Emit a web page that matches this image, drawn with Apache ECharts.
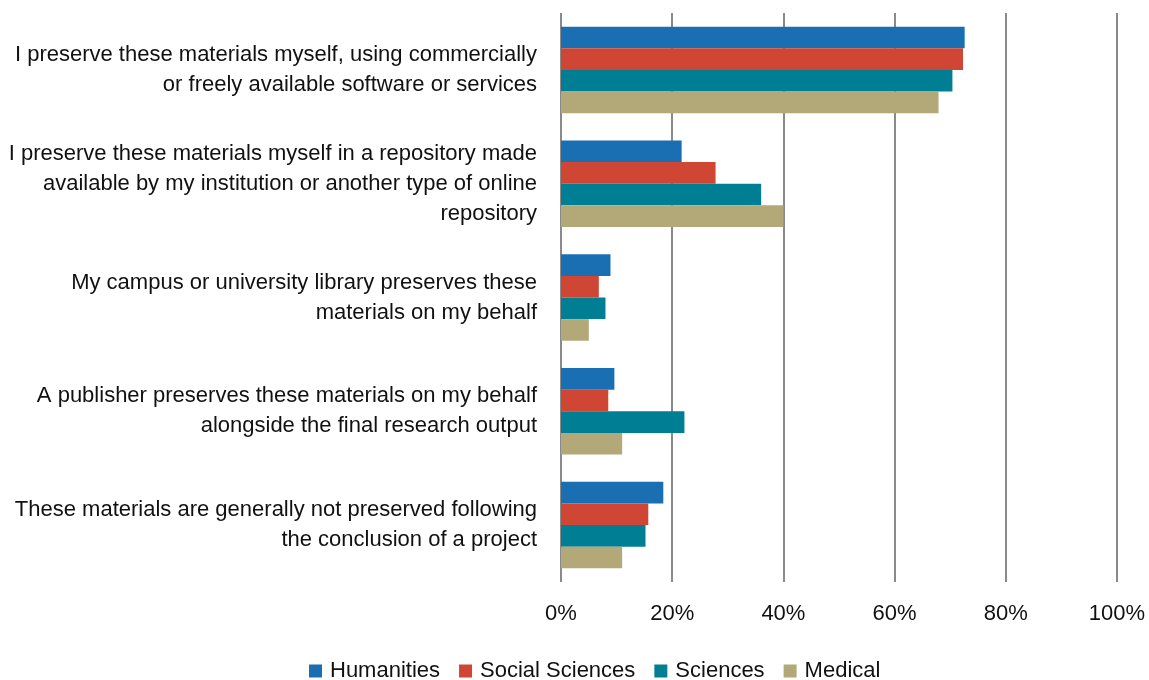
<!DOCTYPE html>
<html>
<head>
<meta charset="utf-8">
<script src="https://cdn.jsdelivr.net/npm/echarts@6/dist/echarts.min.js"></script>
<style>
  html, body { margin: 0; padding: 0; background: #fff; }
  #chart { width: 1149px; height: 680px; }
</style>
</head>
<body>
<div id="chart"></div>
<script>
// categories, top to bottom
const categories = [
  'I preserve these materials myself, using commercially\nor freely available software or services',
  'I preserve these materials myself in a repository made\navailable by my institution or another type of online\nrepository',
  'My campus or university library preserves these\nmaterials on my behalf',
  'A publisher preserves these materials on my behalf\nalongside the final research output',
  'These materials are generally not preserved following\nthe conclusion of a project'
];

// percentages
const humanities = [72.6, 21.7, 8.9, 9.6, 18.4];
const socialSciences = [72.3, 27.8, 6.8, 8.5, 15.7];
const sciences = [70.4, 36.0, 8.0, 22.2, 15.2];
const medical = [67.9, 40.0, 5.0, 11.0, 11.0];

const seriesNames = ['Humanities', 'Social Sciences', 'Sciences', 'Medical'];
const colors = ['#1a6fb3', '#cf4634', '#007f94', '#b3a878'];
const font = '"Liberation Sans Narrow", "Arial Narrow", "Liberation Sans", sans-serif';

const chart = echarts.init(document.getElementById('chart'));

const makeSeries = (name, data, color) => ({
  name: name,
  type: 'bar',
  data: data,
  barGap: '0%',
  barCategoryGap: '24%',
  itemStyle: { color: color },
  emphasis: { disabled: true }
});

chart.setOption({
  animation: false,
  color: colors,
  grid: {
    left: 561,
    right: 32,
    top: 13,
    bottom: 98
  },
  legend: {
    top: 655,
    left: 304,
    itemWidth: 13,
    itemHeight: 13,
    itemGap: 19,
    icon: 'rect',
    textStyle: { fontFamily: font, fontSize: 22, color: '#111', padding: [0, 0, 0, 3] },
    data: seriesNames
  },
  xAxis: {
    type: 'value',
    min: 0,
    max: 100,
    interval: 20,
    axisLine: { show: false },
    axisTick: { show: false },
    splitLine: { lineStyle: { color: '#8a8a8a', width: 2 } },
    axisLabel: {
      formatter: '{value}%',
      fontFamily: font,
      fontSize: 22,
      color: '#111',
      margin: 21
    }
  },
  yAxis: {
    type: 'category',
    inverse: true,
    data: categories,
    axisLine: { show: false },
    axisTick: { show: false },
    axisLabel: {
      fontFamily: font,
      fontSize: 22,
      lineHeight: 30,
      color: '#111',
      margin: 24,
      align: 'right'
    }
  },
  series: [
    makeSeries(seriesNames[0], humanities, colors[0]),
    makeSeries(seriesNames[1], socialSciences, colors[1]),
    makeSeries(seriesNames[2], sciences, colors[2]),
    makeSeries(seriesNames[3], medical, colors[3])
  ]
});
</script>
</body>
</html>
